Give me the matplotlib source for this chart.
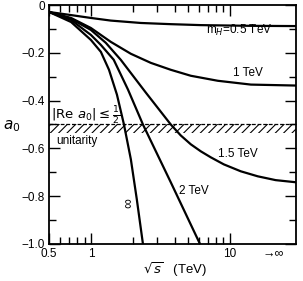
import matplotlib
matplotlib.use("Agg")
import matplotlib.pyplot as plt
from matplotlib.ticker import FixedLocator, NullFormatter

plt.rcParams['font.family'] = ['Liberation Sans', 'DejaVu Sans']
plt.rcParams['hatch.linewidth'] = 0.8

# values: sqrt(s) in TeV, a0
s_05 = [0.5, 0.72, 1.0, 1.39, 2.29, 3.76, 6.19, 14.2, 30]
a_05 = [-0.029, -0.042, -0.054, -0.065, -0.075, -0.080, -0.084, -0.087, -0.088]

s_1 = [0.5, 0.72, 1.0, 1.39, 1.94, 2.7, 3.76, 5.24, 8.2, 14.2, 30]
a_1 = [-0.029, -0.054, -0.096, -0.154, -0.204, -0.242, -0.271, -0.296, -0.317, -0.333, -0.337]

s_15 = [0.5, 0.72, 1.0, 1.28, 1.64, 2.49, 3.76, 4.44, 5.24, 6.19, 7.3, 9.06, 12.0, 15.9, 21.4, 30]
a_15 = [-0.029, -0.058, -0.104, -0.158, -0.229, -0.367, -0.5, -0.546, -0.583, -0.6125,
        -0.6375, -0.667, -0.696, -0.717, -0.733, -0.742]

s_2 = [0.5, 0.72, 1.0, 1.18, 1.46, 1.85, 2.37, 3.76, 6.1]
a_2 = [-0.029, -0.0625, -0.125, -0.167, -0.229, -0.354, -0.5, -0.742, -1.0]

s_inf = [0.5, 0.72, 1.0, 1.18, 1.35, 1.54, 1.73, 1.94, 2.14, 2.37]
a_inf = [-0.029, -0.071, -0.146, -0.196, -0.271, -0.375, -0.5, -0.646, -0.8125, -1.0]

unitarity_limit = -0.5
band_bottom = -0.535

y_ticks = [0, -0.2, -0.4, -0.6, -0.8, -1.0]
y_labels = ['0', '\u22120.2', '\u22120.4', '\u22120.6', '\u22120.8', '\u22121.0']
x_ticks = [0.5, 1, 10]
x_labels = ['0.5', '1', '10']

fig = plt.figure(figsize=(3.03, 2.81), dpi=100)
ax = fig.add_axes([0.162, 0.132, 0.815, 0.85])

lw = 1.6
for s, a in [(s_05, a_05), (s_1, a_1), (s_15, a_15), (s_2, a_2), (s_inf, a_inf)]:
    ax.plot(s, a, color='black', lw=lw)

# unitarity band
ax.plot([0.5, 30], [unitarity_limit, unitarity_limit], color='black', lw=0.9, ls=(0, (3, 1.5)))
ax.fill_between([0.5, 30], band_bottom, unitarity_limit, facecolor='none',
                edgecolor='black', hatch='////', lw=0)

ax.set_xscale('log')
ax.set_xlim(0.5, 30)
ax.set_ylim(-1.0, 0)

ax.xaxis.set_major_locator(FixedLocator(x_ticks))
ax.set_xticklabels(x_labels)
ax.xaxis.set_minor_locator(FixedLocator([0.6, 0.7, 0.8, 0.9, 2, 3, 4, 5, 6, 7, 8, 9]))
ax.xaxis.set_minor_formatter(NullFormatter())
ax.set_yticks(y_ticks)
ax.set_yticklabels(y_labels)
ax.set_yticks([-0.1, -0.3, -0.5, -0.7, -0.9], minor=True)

ax.tick_params(which='major', direction='in', length=8, width=1.0,
               top=True, right=True, labelsize=8.5, pad=3)
ax.tick_params(which='minor', direction='in', length=5, width=1.0,
               top=True, right=True)
for sp in ax.spines.values():
    sp.set_linewidth(1.3)

ax.text(20.5, -0.017, '\u2192\u221e', transform=ax.get_xaxis_transform(),
        ha='center', va='top', fontsize=9)

ax.set_xlabel(r'$\sqrt{s}$   (TeV)', fontsize=9.5)
ax.xaxis.set_label_coords(0.51, -0.07)
ax.set_ylabel(r'$a_0$', rotation=0, fontsize=11)
ax.yaxis.set_label_coords(-0.15, 0.46)

ax.text(6.7, -0.105, r'm$_H$=0.5 TeV', fontsize=8.5, va='center')
ax.text(10.5, -0.285, '1 TeV', fontsize=8.5, va='center')
ax.text(8.2, -0.625, '1.5 TeV', fontsize=8.5, va='center')
ax.text(4.3, -0.78, '2 TeV', fontsize=8.5, va='center')
ax.text(1.88, -0.83, '\u221e', fontsize=10, rotation=90, ha='center', va='center')

ax.text(0.52, -0.478, r'$|\mathrm{Re}\ a_0| \leq \frac{1}{2}$', fontsize=9.5, va='baseline')
ax.text(0.56, -0.545, 'unitarity', fontsize=8.5, va='top')

fig.savefig('out.png', dpi=100)
